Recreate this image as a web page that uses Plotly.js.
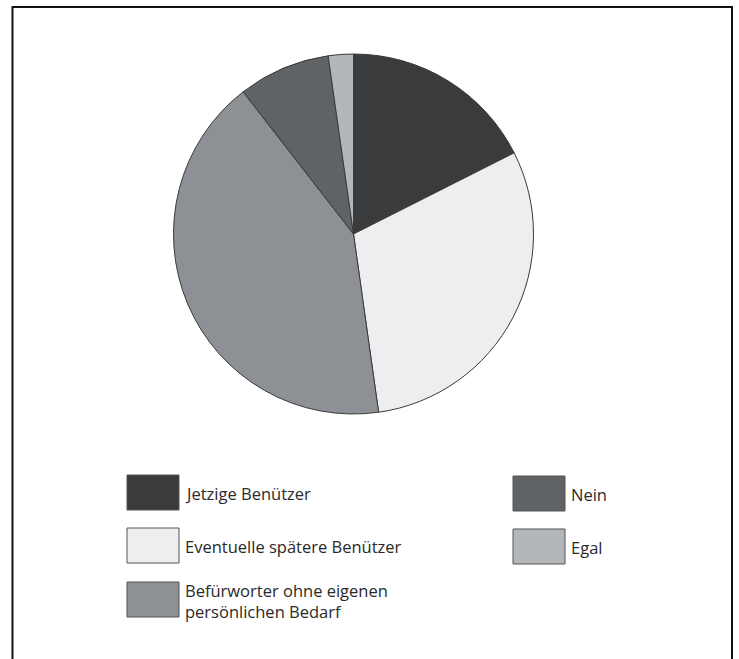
<!DOCTYPE html>
<html>
<head>
<meta charset="utf-8">
<script src="https://cdn.plot.ly/plotly-3.0.1.min.js"></script>
<style>html,body{margin:0;padding:0;background:#fff;}#chart{width:739px;height:659px;}</style>
</head>
<body>
<div id="chart"></div>
<script>
// Data
const labels = ["Jetzige Benützer", "Eventuelle spätere Benützer", "Befürworter ohne eigenen<br>persönlichen Bedarf", "Nein", "Egal"];
const values = [17.55, 30.2, 41.7, 8.25, 2.25];
const colors = ["#3a3b3d", "#eeeef0", "#8d9094", "#606366", "#b4b7ba"];

const W = 739, H = 659;
const px = x => x / W;
const py = y => 1 - y / H;

// Pie geometry (pixels)
const cx = 353.5, cy = 234, r = 180;

const trace = {
  type: "pie",
  labels: labels,
  values: values,
  sort: false,
  direction: "clockwise",
  rotation: 0,
  textinfo: "none",
  hoverinfo: "label+percent",
  showlegend: false,
  marker: { colors: colors, line: { color: "#3a3a3a", width: 1 } },
  domain: { x: [px(cx - r), px(cx + r)], y: [py(cy + r), py(cy - r)] }
};

// Legend layout (pixels)
const legendPos = [
  { x: 127, y: 475 }, { x: 127, y: 528 }, { x: 127, y: 582 },
  { x: 513, y: 476 }, { x: 513, y: 529 }
];
const boxW = 52, boxH = 35;

const shapes = [
  { type: "rect", xref: "paper", yref: "paper", x0: px(12.5), x1: px(732), y0: -0.1, y1: py(7),
    line: { color: "#111", width: 2 }, fillcolor: "rgba(0,0,0,0)", layer: "below" }
];
const annotations = [];
labels.forEach((lab, i) => {
  const p = legendPos[i];
  shapes.push({ type: "rect", xref: "paper", yref: "paper",
    x0: px(p.x), x1: px(p.x + boxW), y0: py(p.y + boxH), y1: py(p.y),
    fillcolor: colors[i], line: { color: "#555", width: 1 } });
  annotations.push({ xref: "paper", yref: "paper", x: px(p.x + boxW + 4), y: py(p.y + boxH / 2 + 1),
    xanchor: "left", yanchor: "middle", align: "left", showarrow: false, text: lab,
    font: { family: "Open Sans, sans-serif", size: 16.5, color: "#2a2a2a" } });
});

const layout = {
  width: W, height: H,
  margin: { l: 0, r: 0, t: 0, b: 0 },
  paper_bgcolor: "#fff", plot_bgcolor: "#fff",
  shapes: shapes,
  annotations: annotations
};

Plotly.newPlot("chart", [trace], layout, { displayModeBar: false, staticPlot: true });
</script>
</body>
</html>
